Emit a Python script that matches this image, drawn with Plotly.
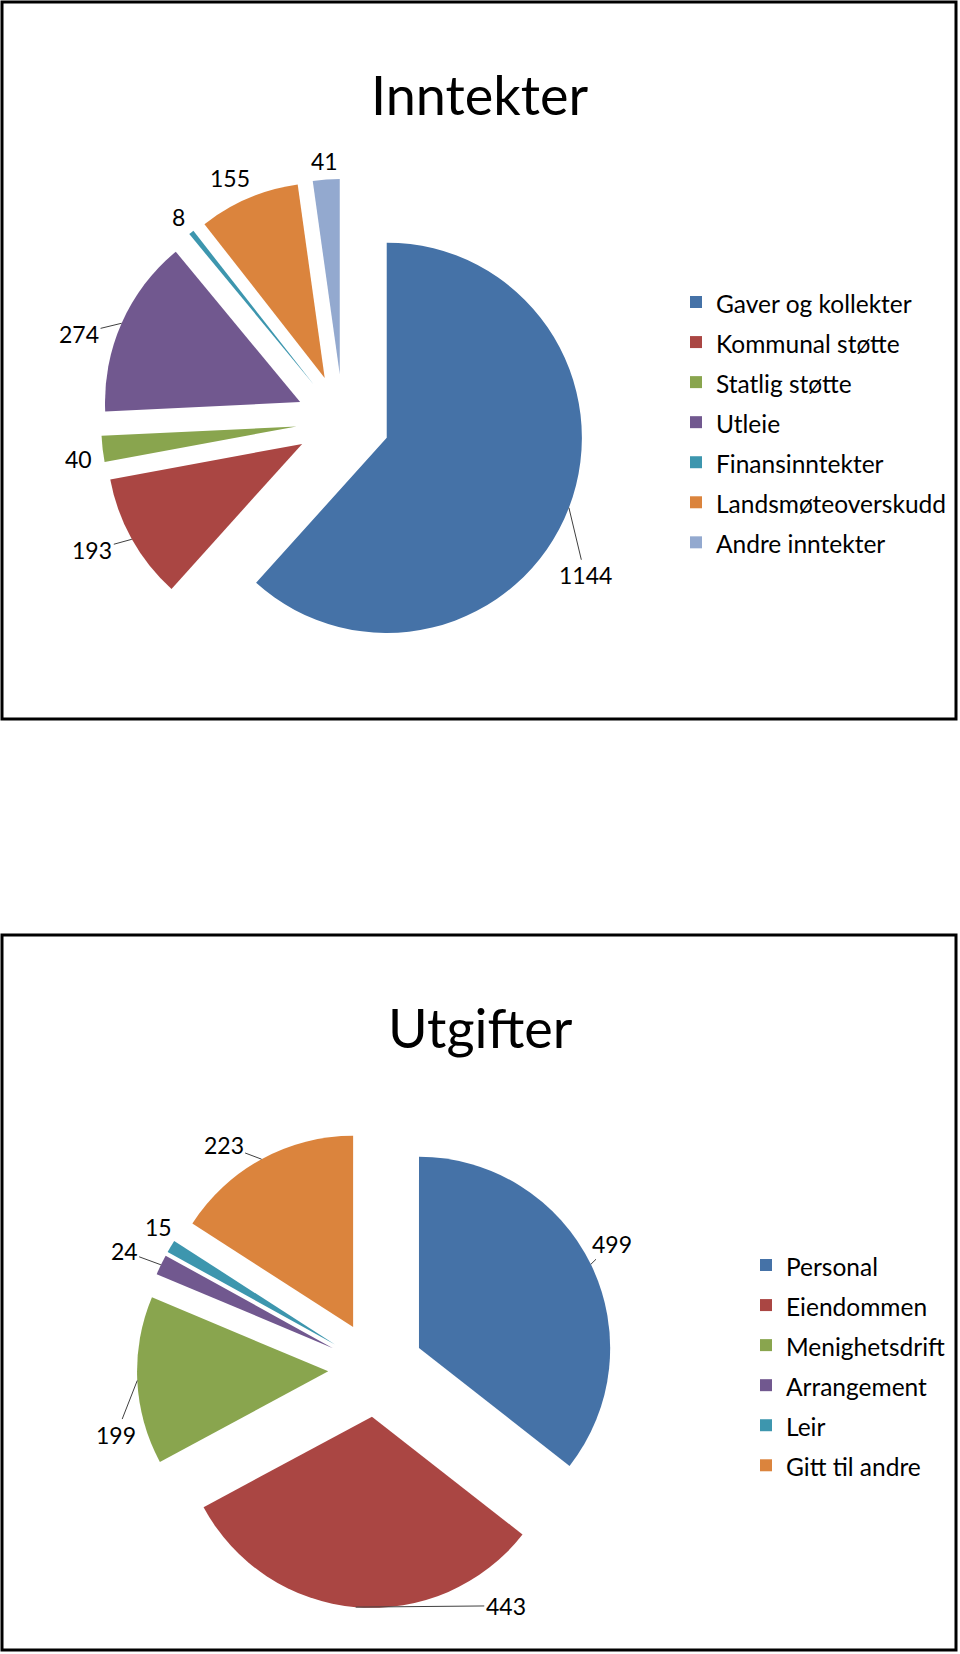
import math
import plotly.graph_objects as go

W, H = 960, 1654

# ---- data ----
inc_labels = ["Gaver og kollekter", "Kommunal støtte", "Statlig støtte", "Utleie",
              "Finansinntekter", "Landsmøteoverskudd", "Andre inntekter"]
inc_values = [1144, 193, 40, 274, 8, 155, 41]

exp_labels = ["Personal", "Eiendommen", "Menighetsdrift", "Arrangement", "Leir", "Gitt til andre"]
exp_values = [499, 443, 199, 24, 15, 223]

inc_title = "Inntekter"
exp_title = "Utgifter"

# ---- styling / layout ----
FONT = "Lato"
inc_colors = ["#4572A7", "#AA4643", "#89A54E", "#71588F", "#3D96AE", "#DB843D", "#93A9CF"]
exp_colors = ["#4572A7", "#AA4643", "#89A54E", "#71588F", "#3D96AE", "#DB843D"]

# pie placement (pixel centre and half-size of domain) and explosion
INC_C, INC_HALF, INC_PULL = (343, 421), 242, 0.24
EXP_C, EXP_HALF, EXP_PULL = (376, 1369), 239, 0.25

# data-label placement: angular shift from slice mid-angle (deg), distance from
# pie centre (px), and whether a leader line is drawn
inc_lab_shift = [11.5, 2, -1.5, -5.5, 0, -2, 0]
inc_lab_dist = [287, 282, 267, 278, 262, 268, 261]
inc_lab_line = [True, True, False, True, False, False, False]

exp_lab_shift = [-2, -33.6, -11.4, -0.8, 2.3, -5.6]
exp_lab_dist = [267, 270, 268, 278, 260, 271]
exp_lab_line = [True, True, True, True, False, True]


def px_x(x):
    return x / W


def px_y(y):
    return 1 - y / H


def dom(c, half):
    cx, cy = c
    return dict(x=[px_x(cx - half), px_x(cx + half)],
                y=[px_y(cy + half), px_y(cy - half)])


def span(t, size=24.5):
    return f'<span style="font-size:{size}px">{t}</span>'


def label_annotations(values, c, half, shifts, dists, lines):
    """Data labels placed around the pie, computed from slice angles."""
    total = sum(values)
    cx, cy = c
    anns = []
    cum = 0
    for v, sh, d, ln in zip(values, shifts, dists, lines):
        mid = 360 * (cum + v / 2) / total
        cum += v
        # tip on the exploded arc at the mid-angle
        tx = cx + half * math.sin(math.radians(mid))
        ty = cy - half * math.cos(math.radians(mid))
        a = math.radians(mid + sh)
        lx = cx + d * math.sin(a)
        ly = cy - d * math.cos(a)
        if ln:
            anns.append(dict(text=str(v), x=px_x(tx), y=px_y(ty), xref="paper", yref="paper",
                             showarrow=True, arrowhead=0, arrowwidth=1, arrowcolor="#404040",
                             ax=lx - tx, ay=ly - ty, standoff=0, startstandoff=0,
                             font=dict(family=FONT, size=23, color="black")))
        else:
            anns.append(dict(text=str(v), x=px_x(lx), y=px_y(ly), xref="paper", yref="paper",
                             xanchor="center", yanchor="middle", showarrow=False,
                             font=dict(family=FONT, size=23, color="black")))
    return anns


fig = go.Figure()

fig.add_trace(go.Pie(
    labels=[span(l) for l in inc_labels], values=inc_values,
    sort=False, direction="clockwise", rotation=0,
    pull=INC_PULL, marker=dict(colors=inc_colors, line=dict(width=0)),
    textinfo="none",
    domain=dom(INC_C, INC_HALF), legend="legend", hoverinfo="label+value",
))

fig.add_trace(go.Pie(
    labels=[span(l) for l in exp_labels], values=exp_values,
    sort=False, direction="clockwise", rotation=0,
    pull=EXP_PULL, marker=dict(colors=exp_colors, line=dict(width=0)),
    textinfo="none",
    domain=dom(EXP_C, EXP_HALF), legend="legend2", hoverinfo="label+value",
))

legend_common = dict(font=dict(family=FONT, size=28.5, color="black"),
                     bgcolor="rgba(0,0,0,0)", borderwidth=0,
                     xanchor="left", yanchor="top", itemwidth=30,
                     itemclick=False, itemdoubleclick=False)

annotations = [
    dict(text=inc_title, x=0.5, y=px_y(94), xref="paper", yref="paper",
         xanchor="center", yanchor="middle", showarrow=False,
         font=dict(family=FONT, size=54, color="black")),
    dict(text=exp_title, x=0.5, y=px_y(1027), xref="paper", yref="paper",
         xanchor="center", yanchor="middle", showarrow=False,
         font=dict(family=FONT, size=54, color="black")),
]
annotations += label_annotations(inc_values, INC_C, INC_HALF, inc_lab_shift, inc_lab_dist, inc_lab_line)
annotations += label_annotations(exp_values, EXP_C, EXP_HALF, exp_lab_shift, exp_lab_dist, exp_lab_line)

fig.update_layout(
    width=W, height=H,
    margin=dict(l=0, r=0, t=0, b=0, pad=0, autoexpand=False),
    paper_bgcolor="white", plot_bgcolor="white",
    showlegend=True,
    legend=dict(x=px_x(676), y=px_y(277), **legend_common),
    legend2=dict(x=px_x(746), y=px_y(1240), **legend_common),
    annotations=annotations,
    shapes=[
        dict(type="rect", xref="paper", yref="paper",
             x0=px_x(2), x1=px_x(956), y0=px_y(2), y1=px_y(719),
             line=dict(color="black", width=3), fillcolor="rgba(0,0,0,0)"),
        dict(type="rect", xref="paper", yref="paper",
             x0=px_x(2), x1=px_x(956), y0=px_y(935), y1=px_y(1650),
             line=dict(color="black", width=3), fillcolor="rgba(0,0,0,0)"),
    ],
)

fig.write_html("out.html")
